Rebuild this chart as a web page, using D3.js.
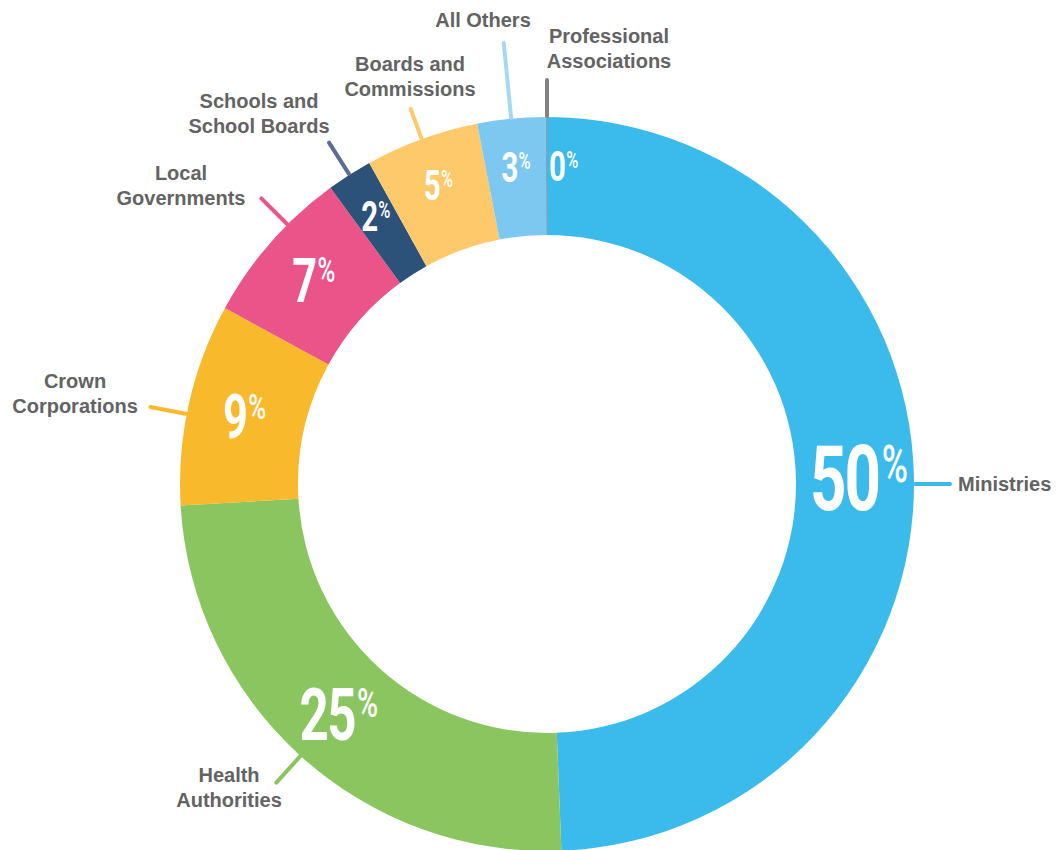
<!DOCTYPE html>
<html>
<head>
<meta charset="utf-8">
<script src="https://cdn.jsdelivr.net/npm/d3@7/dist/d3.min.js"></script>
<style>
  html, body { margin: 0; padding: 0; background: #ffffff; }
  svg { display: block; }
</style>
</head>
<body>
<svg id="chart" width="1060" height="850"></svg>
<script>
// ---- data ----
const categories = ["Ministries", "Health Authorities", "Crown Corporations", "Local Governments",
                    "Schools and School Boards", "Boards and Commissions", "All Others", "Professional Associations"];
const shares = [49.4, 24.7, 8.9, 7.0, 2.0, 5.0, 3.0, 0.05];
const pctLabels = ["50", "25", "9", "7", "2", "5", "3", "0"];
const nameLines = [["Ministries"], ["Health", "Authorities"], ["Crown", "Corporations"], ["Local", "Governments"],
                   ["Schools and", "School Boards"], ["Boards and", "Commissions"], ["All Others"], ["Professional", "Associations"]];

// ---- styles / layout ----
const sliceColors = ["#3bbaec", "#8bc55f", "#f9b92d", "#ea5489", "#2c527a", "#fdc96a", "#7dc8f0", "#9a9a9a"];
const leaderColors = ["#3bbaec", "#8bc55f", "#f9b92d", "#ea5489", "#5b6d8f", "#fdc96a", "#a5d8f3", "#808080"];
const cx = 547, cy = 484, rOuter = 367, rInner = 249;
// name label anchors (text positions) and leader settings
const nameLayout = [
  {x: 958, y: 491, anchor: "start", ang: 90,  len: 403},
  {x: 229, y: 782, anchor: "middle", ang: null, len: 403},
  {x: 75,  y: 388, anchor: "middle", ang: 281, len: 404},
  {x: 181, y: 180, anchor: "middle", ang: 315, len: 404},
  {x: 259, y: 108, anchor: "middle", ang: null, len: 405},
  {x: 410, y: 71,  anchor: "middle", ang: null, len: 399},
  {x: 483, y: 27,  anchor: "middle", ang: 354.4, len: 443},
  {x: 609, y: 43,  anchor: "middle", ang: 0,  len: 404}
];

const svg = d3.select("#chart");
const g = svg.append("g").attr("transform", `translate(${cx},${cy})`);

const pie = d3.pie().sort(null).value(d => d).startAngle(0).endAngle(2 * Math.PI);
const arcs = pie(shares);
const arc = d3.arc().innerRadius(rInner).outerRadius(rOuter);

g.selectAll("path.slice")
  .data(arcs)
  .enter().append("path")
  .attr("class", "slice")
  .attr("d", arc)
  .attr("fill", (d, i) => sliceColors[i]);

// leader lines
const deg = Math.PI / 180;
arcs.forEach((d, i) => {
  const L = nameLayout[i];
  const a = L.ang === null ? (d.startAngle + d.endAngle) / 2 : L.ang * deg;
  const r0 = rOuter + 1;
  g.append("line")
    .attr("x1", r0 * Math.sin(a)).attr("y1", -r0 * Math.cos(a))
    .attr("x2", L.len * Math.sin(a)).attr("y2", -L.len * Math.cos(a))
    .attr("stroke", leaderColors[i])
    .attr("stroke-width", 4)
    .attr("stroke-linecap", "round");
});

// name labels
nameLines.forEach((lines, i) => {
  const L = nameLayout[i];
  const t = svg.append("text")
    .attr("x", L.x).attr("y", L.y)
    .attr("text-anchor", L.anchor)
    .attr("font-family", "'Liberation Sans', Arial, sans-serif")
    .attr("font-weight", "bold")
    .attr("font-size", 20)
    .attr("fill", "#636363");
  lines.forEach((s, k) => {
    t.append("tspan").attr("x", L.x).attr("dy", k === 0 ? 0 : 25).text(s);
  });
});

// percent labels
const sizeScale = d3.scaleThreshold().domain([6, 20, 40]).range([42, 62, 73, 91]);
const radScale = d3.scaleThreshold().domain([6, 40]).range([318, 310, 312]);
const sx = 0.7;
arcs.forEach((d, i) => {
  const F = sizeScale(d.value);
  const mid = (d.startAngle + d.endAngle) / 2;
  const rr = radScale(d.value);
  let px = rr * Math.sin(mid), py = -rr * Math.cos(mid);
  const grp = g.append("g");
  const num = grp.append("text")
    .attr("font-family", "Roboto, sans-serif")
    .attr("font-weight", 700)
    .attr("font-size", F)
    .attr("letter-spacing", -F * 0.03)
    .attr("fill", "#ffffff")
    .text(pctLabels[i]);
  const pF = F * 0.56;
  const pct = grp.append("text")
    .attr("font-family", "Roboto, sans-serif")
    .attr("font-weight", 500)
    .attr("font-size", pF)
    .attr("fill", "#ffffff")
    .text("%");
  const wN = num.node().getComputedTextLength();
  const wP = pct.node().getComputedTextLength();
  const gap = F * 0.04;
  const total = (wN + gap + wP) * sx;
  const capF = 0.711;
  const y0 = F * capF / 2;
  num.attr("x", 0).attr("y", y0);
  pct.attr("x", wN + gap).attr("y", y0 - capF * F + capF * pF);
  let startX;
  if (d.value < 0.5) {
    // tiny slice: label sits just clockwise of the slice
    startX = 2;
  } else {
    startX = px - total / 2;
  }
  grp.attr("transform", `translate(${startX},${py}) scale(${sx},1)`);
});
</script>
</body>
</html>
